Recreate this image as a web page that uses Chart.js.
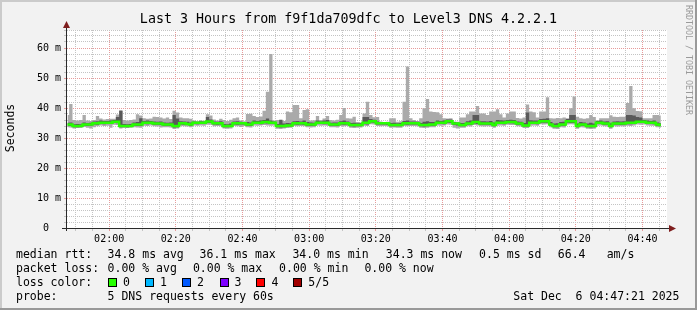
<!DOCTYPE html>
<html>
<head>
<meta charset="utf-8">
<title>Last 3 Hours from f9f1da709dfc to Level3 DNS 4.2.2.1</title>
<script src="https://cdn.jsdelivr.net/npm/chart.js@4.4.0/dist/chart.umd.min.js"></script>
<style>
  html, body { margin: 0; padding: 0; background: #f2f2f2; }
  #wrap { position: relative; width: 697px; height: 310px; overflow: hidden; background: #f2f2f2;
          font-family: 'DejaVu Sans Mono', monospace; color: #000; }
  #wrap canvas { position: absolute; left: 0; top: 0; }
  .t { position: absolute; white-space: pre; font-size: 11.5px; line-height: 14px; }
  .title { position: absolute; left: 0; top: 11px; width: 697px; text-align: center; font-size: 13.33px; line-height: 16px; white-space: pre; }
  .ylab { position: absolute; left: -40px; top: 121px; width: 100px; height: 14px; text-align: center;
          font-size: 11.5px; line-height: 14px; transform: rotate(-90deg); }
  .credit { position: absolute; left: 684px; top: 5px; writing-mode: vertical-rl; font-size: 8.3px; line-height: 9px;
            color: #9a9a9a; white-space: pre; }
  .box { position: absolute; top: 278px; width: 7px; height: 7px; border: 1px solid #000; }
  .shade { position: absolute; }
</style>
</head>
<body>
<div id="wrap">
  <canvas id="chart" width="697" height="310"></canvas>

  <div class="title">Last 3 Hours from f9f1da709dfc to Level3 DNS 4.2.2.1</div>
  <div class="ylab">Seconds</div>
  <div class="credit">RRDTOOL / TOBI OETIKER</div>

  <div class="t" style="left:16px;top:247px">median rtt:</div>
  <div class="t" style="left:107.6px;top:247px">34.8 ms avg</div>
  <div class="t" style="left:199.6px;top:247px">36.1 ms max</div>
  <div class="t" style="left:292.4px;top:247px">34.0 ms min</div>
  <div class="t" style="left:385.8px;top:247px">34.3 ms now</div>
  <div class="t" style="left:479.1px;top:247px">0.5 ms sd</div>
  <div class="t" style="left:557.8px;top:247px">66.4</div>
  <div class="t" style="left:606.7px;top:247px">am/s</div>

  <div class="t" style="left:16px;top:261px">packet loss:</div>
  <div class="t" style="left:107.6px;top:261px">0.00 % avg</div>
  <div class="t" style="left:192.9px;top:261px">0.00 % max</div>
  <div class="t" style="left:279.1px;top:261px">0.00 % min</div>
  <div class="t" style="left:364.4px;top:261px">0.00 % now</div>

  <div class="t" style="left:16px;top:275px">loss color:</div>
  <div id="lossLegend"></div>

  <div class="t" style="left:16px;top:289px">probe:</div>
  <div class="t" style="left:107.6px;top:289px">5 DNS requests every 60s</div>
  <div class="t" style="left:513.3px;top:289px">Sat Dec  6 04:47:21 2025</div>

  <div class="shade" style="left:0;top:0;width:697px;height:2px;background:#cbcbcb"></div>
  <div class="shade" style="left:0;top:0;width:2px;height:310px;background:#cbcbcb"></div>
  <div class="shade" style="left:0;top:308px;width:697px;height:2px;background:#999"></div>
  <div class="shade" style="left:695px;top:0;width:2px;height:310px;background:#999"></div>
</div>

<script>
// time axis: 3 hours ending at 04:47:21, one RRD step per minute
const startClock = '01:47:21';
const spanMinutes = 180;
const stepOffset = 0.15;          // steps sit on whole minutes, 39 s after the start
const xTickLabels = ['02:00', '02:20', '02:40', '03:00', '03:20', '03:40', '04:00', '04:20', '04:40'];
const yTickValues = [0, 10, 20, 30, 40, 50, 60];

const lossLabels = ['0', '1', '2', '3', '4', '5/5'];
const lossColors = ['#26ff00', '#00b8ff', '#0059ff', '#7e00ff', '#ff0000', '#a10000'];

// median rtt (ms), one value per minute
const medianRtt = [
  34.5, 34.5, 34.0, 34.0, 34.0, 34.5, 34.5, 34.5, 34.9, 34.9,
  35.1, 35.1, 35.1, 35.1, 35.4, 35.4, 34.0, 34.0, 34.0, 34.0,
  34.5, 34.5, 34.5, 35.1, 35.1, 35.1, 34.8, 34.8, 34.8, 34.5,
  34.5, 34.5, 34.0, 34.0, 34.9, 34.9, 34.7, 34.5, 35.1, 35.1,
  35.1, 35.1, 35.5, 35.5, 34.9, 34.9, 34.9, 34.0, 34.0, 34.0,
  34.9, 34.9, 34.9, 34.9, 34.5, 34.5, 35.1, 35.1, 35.1, 35.3,
  35.3, 35.1, 35.1, 34.0, 34.0, 34.0, 34.2, 34.2, 34.9, 34.9,
  34.9, 34.9, 34.5, 34.5, 34.5, 35.1, 35.1, 35.1, 35.1, 34.5,
  34.5, 34.5, 34.9, 34.9, 34.9, 34.3, 34.3, 34.3, 34.3, 35.1,
  35.1, 35.6, 35.6, 34.9, 34.9, 34.9, 34.9, 34.3, 34.3, 34.3,
  34.3, 34.9, 34.9, 34.9, 34.9, 34.9, 34.3, 34.3, 34.3, 34.5,
  34.5, 35.1, 35.1, 35.1, 35.6, 35.6, 34.8, 34.8, 34.3, 34.3,
  34.8, 34.8, 35.3, 35.3, 34.8, 34.8, 34.8, 34.8, 34.3, 35.1,
  35.1, 35.1, 35.3, 35.3, 35.3, 34.8, 34.8, 34.2, 34.2, 35.1,
  35.1, 35.1, 35.6, 35.6, 35.6, 34.5, 34.0, 34.0, 34.5, 34.5,
  35.6, 35.6, 35.6, 34.0, 34.5, 34.5, 34.0, 34.0, 34.0, 35.1,
  35.1, 34.8, 34.8, 34.0, 34.8, 34.8, 34.8, 34.8, 35.1, 35.1,
  35.1, 35.4, 35.4, 35.4, 35.1, 35.1, 35.1, 34.5, 34.3, null
];

// smoke: sorted pings, slowest (ping5) to fastest (ping1)
const ping5 = [
  37.7, 41.3, 36.0, 35.8, 36.0, 37.7, 35.8, 35.7, 36.0, 37.3,
  36.5, 36.2, 36.3, 36.4, 36.4, 37.8, 39.3, 36.0, 35.8, 36.0,
  36.2, 37.9, 37.5, 36.6, 36.4, 36.5, 37.1, 37.0, 36.8, 36.5,
  36.8, 36.3, 39.1, 38.5, 36.8, 36.6, 36.6, 36.4, 35.8, 35.6,
  35.9, 35.7, 37.9, 37.5, 36.2, 35.8, 36.4, 36.0, 35.7, 36.1,
  36.6, 36.8, 35.8, 35.6, 38.0, 38.1, 37.3, 37.0, 37.2, 39.1,
  45.4, 58.0, 35.8, 36.0, 36.2, 35.7, 38.8, 38.6, 41.0, 41.0,
  36.6, 39.3, 39.6, 35.8, 35.9, 37.3, 36.0, 36.5, 37.3, 36.0,
  35.8, 36.1, 37.7, 40.0, 36.6, 36.5, 37.1, 35.3, 35.2, 38.2,
  42.1, 37.7, 36.9, 37.0, 35.5, 35.2, 35.4, 36.6, 36.6, 35.4,
  35.6, 42.1, 53.8, 36.6, 36.0, 35.7, 36.6, 39.9, 43.0, 38.8,
  38.7, 38.6, 37.9, 36.6, 36.5, 36.6, 35.5, 35.4, 36.8, 36.8,
  37.9, 38.8, 38.8, 40.7, 38.2, 38.2, 37.7, 38.8, 38.8, 39.6,
  37.9, 36.8, 38.2, 38.8, 38.8, 36.7, 36.5, 36.8, 41.2, 38.8,
  38.6, 36.8, 38.8, 38.8, 43.6, 36.6, 36.5, 36.7, 36.6, 36.8,
  36.6, 39.9, 43.8, 37.1, 36.6, 36.4, 36.6, 37.7, 37.0, 35.9,
  36.6, 36.6, 36.6, 37.6, 37.1, 37.0, 37.1, 37.1, 41.7, 47.3,
  39.9, 39.0, 38.9, 36.6, 36.6, 36.6, 37.7, 37.7, 37.5, null
];
const ping4 = [
  35.1, 35.2, 34.6, 34.7, 34.6, 35.2, 35.0, 35.1, 35.5, 35.6,
  35.8, 35.7, 35.7, 35.8, 36.0, 37.0, 39.0, 34.7, 34.6, 34.7,
  35.2, 35.3, 36.6, 35.7, 35.8, 35.7, 35.5, 35.4, 35.5, 35.2,
  35.1, 35.2, 37.7, 36.5, 35.6, 35.5, 35.4, 35.2, 35.5, 35.4,
  35.6, 35.5, 37.0, 36.2, 35.5, 35.4, 35.6, 34.7, 34.6, 34.8,
  35.5, 35.6, 35.4, 35.3, 35.3, 35.2, 35.8, 35.7, 35.8, 36.0,
  36.5, 35.8, 35.5, 34.7, 36.0, 34.8, 35.0, 34.9, 35.6, 35.7,
  35.5, 35.8, 35.3, 35.2, 35.1, 35.8, 35.6, 35.8, 36.0, 35.1,
  35.2, 35.2, 35.6, 35.8, 35.5, 35.0, 35.1, 34.9, 34.9, 37.0,
  37.0, 36.3, 36.1, 35.5, 35.2, 35.1, 35.2, 35.0, 35.1, 34.9,
  35.0, 35.7, 35.8, 35.5, 35.5, 35.4, 35.0, 35.4, 35.6, 35.3,
  35.3, 35.8, 35.7, 35.8, 36.2, 36.2, 35.3, 35.2, 35.0, 35.0,
  35.6, 35.8, 37.7, 37.7, 35.6, 35.6, 35.5, 35.7, 35.2, 36.0,
  35.9, 35.8, 36.0, 36.1, 36.0, 35.5, 35.4, 35.0, 38.5, 35.9,
  35.8, 35.8, 36.3, 36.4, 36.6, 35.3, 34.8, 34.9, 35.3, 35.4,
  36.3, 37.7, 37.7, 34.8, 35.3, 35.2, 34.8, 35.1, 34.8, 35.7,
  35.8, 35.5, 35.6, 34.9, 35.5, 35.6, 35.5, 35.6, 37.7, 37.7,
  37.5, 37.0, 36.8, 36.0, 35.8, 35.7, 35.8, 35.2, 35.0, null
];
const ping2 = [
  34.1, 34.0, 33.6, 33.6, 33.7, 34.1, 34.0, 34.1, 34.5, 34.4,
  34.7, 34.6, 34.7, 34.7, 35.0, 34.9, 33.6, 33.7, 33.6, 33.7,
  34.1, 34.0, 34.0, 34.7, 34.6, 34.7, 34.4, 34.4, 34.3, 34.1,
  34.1, 34.0, 33.5, 33.6, 34.5, 34.4, 34.3, 34.1, 34.7, 34.6,
  34.7, 34.7, 35.0, 35.0, 34.5, 34.4, 34.5, 33.6, 33.6, 33.7,
  34.5, 34.4, 34.5, 34.5, 34.1, 34.0, 34.7, 34.7, 34.6, 34.9,
  34.8, 34.7, 34.7, 33.6, 33.5, 33.6, 33.8, 33.8, 34.5, 34.4,
  34.5, 34.4, 34.1, 34.0, 34.1, 34.7, 34.7, 34.6, 34.6, 34.1,
  34.1, 34.0, 34.5, 34.4, 34.5, 33.9, 33.8, 33.9, 33.9, 34.6,
  34.5, 35.2, 35.1, 34.5, 34.5, 34.5, 34.4, 33.9, 33.9, 33.9,
  33.9, 34.5, 34.4, 34.5, 34.5, 34.5, 33.9, 33.8, 33.9, 34.1,
  34.1, 34.7, 34.7, 34.6, 35.1, 35.0, 34.3, 34.2, 33.9, 33.9,
  34.4, 34.4, 34.8, 34.7, 34.4, 34.4, 34.4, 34.3, 33.9, 34.7,
  34.7, 34.6, 34.9, 34.9, 34.8, 34.4, 34.4, 33.8, 33.8, 34.7,
  34.7, 34.6, 35.1, 35.1, 35.1, 34.1, 33.6, 33.6, 34.1, 34.1,
  35.1, 35.0, 35.0, 33.6, 34.1, 34.1, 33.6, 33.5, 33.6, 34.7,
  34.7, 34.4, 34.4, 33.6, 34.4, 34.4, 34.3, 34.4, 34.6, 34.6,
  34.7, 35.0, 35.0, 35.0, 34.7, 34.7, 34.6, 34.1, 33.9, null
];
const ping1 = [
  33.6, 33.5, 33.2, 33.3, 33.3, 33.7, 33.4, 33.2, 33.6, 33.9,
  34.2, 34.0, 34.1, 33.4, 34.4, 34.3, 33.2, 33.3, 33.3, 33.4,
  33.6, 33.5, 33.4, 34.1, 34.0, 34.2, 33.9, 33.8, 33.5, 33.6,
  33.6, 33.5, 33.0, 33.2, 34.0, 33.9, 33.8, 33.6, 34.2, 34.1,
  34.2, 34.1, 34.4, 34.4, 33.9, 34.0, 33.9, 33.2, 33.1, 33.2,
  34.0, 33.9, 33.7, 34.0, 33.6, 33.5, 34.2, 34.1, 34.2, 34.3,
  34.2, 34.1, 34.2, 33.1, 33.0, 33.2, 33.3, 33.4, 34.0, 33.9,
  34.0, 33.9, 33.6, 33.5, 33.6, 34.2, 34.1, 34.2, 34.1, 33.6,
  33.6, 33.5, 34.0, 33.9, 34.0, 33.4, 33.3, 33.4, 33.5, 34.1,
  34.0, 34.6, 34.5, 34.0, 33.9, 34.0, 33.9, 33.4, 33.5, 33.4,
  33.4, 34.0, 33.9, 34.0, 34.0, 33.9, 33.4, 33.3, 33.4, 33.6,
  33.6, 34.2, 34.1, 34.2, 34.5, 34.4, 33.4, 33.2, 33.4, 33.4,
  33.9, 33.8, 34.3, 34.2, 33.9, 33.8, 33.9, 33.8, 33.4, 34.1,
  34.2, 34.1, 34.4, 34.3, 34.3, 33.9, 33.8, 33.3, 33.3, 34.1,
  34.2, 34.1, 34.6, 34.5, 34.6, 33.6, 33.1, 33.0, 33.6, 33.5,
  34.5, 34.6, 34.5, 33.1, 33.6, 33.5, 33.1, 33.0, 33.1, 34.1,
  34.2, 33.9, 33.8, 33.1, 33.9, 33.8, 33.9, 33.8, 34.1, 34.0,
  34.2, 34.5, 34.4, 34.5, 34.2, 34.1, 34.1, 33.6, 33.4, null
];

// loss color legend
const lossLegend = document.getElementById('lossLegend');
const lossBoxX = [108, 145, 182, 219.5, 256.4, 293.3];
lossLabels.forEach((lab, i) => {
    const box = document.createElement('div');
    box.className = 'box';
    box.style.left = lossBoxX[i] + 'px';
    box.style.background = lossColors[i];
    lossLegend.appendChild(box);
    const txt = document.createElement('div');
    txt.className = 't';
    txt.style.left = (lossBoxX[i] + 15) + 'px';
    txt.style.top = '275px';
    txt.textContent = lab;
    lossLegend.appendChild(txt);
});

// clock helpers
function toMin(clock) {
    const p = clock.split(':').map(Number);
    return p[0] * 60 + p[1] + (p[2] || 0) / 60;
}
const t0 = toMin(startClock);
const labelAt = xTickLabels.map(l => toMin(l) - t0);

// minor grid every 5 minutes of wall clock
const gridMinutes = [];
for (let m = Math.ceil(t0 / 5) * 5 - t0; m <= spanMinutes; m += 5) gridMinutes.push(m);

const pts = arr => arr.map((v, i) => ({ x: i + stepOffset, y: v }));

const MONO = "'DejaVu Sans Mono', monospace";
const GRID = '#c4c4c4';
const MGRID = '#e79a9a';
const none = 'rgba(0,0,0,0)';

// white canvas + rrdtool axis arrows
const rrdFrame = {
    id: 'rrdFrame',
    beforeDraw(chart) {
        const { ctx, chartArea: a } = chart;
        ctx.save();
        ctx.fillStyle = '#ffffff';
        ctx.fillRect(a.left, a.top, a.right - a.left, a.bottom - a.top);
        ctx.restore();
    },
    afterDraw(chart) {
        const { ctx, chartArea: a } = chart;
        ctx.save();
        ctx.strokeStyle = '#2a2a2a';
        ctx.lineWidth = 1;
        ctx.beginPath();
        ctx.moveTo(a.left - 0.5, a.bottom + 3);
        ctx.lineTo(a.left - 0.5, a.top - 6);
        ctx.moveTo(a.left - 5, a.bottom + 0.5);
        ctx.lineTo(a.right + 3, a.bottom + 0.5);
        ctx.stroke();
        ctx.fillStyle = '#7f1f1f';
        ctx.beginPath();
        ctx.moveTo(a.left - 0.5, a.top - 9);
        ctx.lineTo(a.left - 4, a.top - 2);
        ctx.lineTo(a.left + 3, a.top - 2);
        ctx.closePath();
        ctx.fill();
        ctx.beginPath();
        ctx.moveTo(a.right + 9, a.bottom + 0.5);
        ctx.lineTo(a.right + 2, a.bottom - 3);
        ctx.lineTo(a.right + 2, a.bottom + 4);
        ctx.closePath();
        ctx.fill();
        ctx.restore();
    }
};

new Chart(document.getElementById('chart').getContext('2d'), {
    type: 'line',
    data: {
        datasets: [
            { label: 'median rtt', data: pts(medianRtt), borderColor: lossColors[0], borderWidth: 2.5,
              pointRadius: 0, stepped: 'middle', fill: false },
            { label: 'ping4', data: pts(ping4), borderColor: none, borderWidth: 0, pointRadius: 0,
              stepped: 'middle', fill: 2, backgroundColor: '#595959' },
            { label: 'ping2', data: pts(ping2), borderColor: none, borderWidth: 0, pointRadius: 0,
              stepped: 'middle', fill: false },
            { label: 'ping5', data: pts(ping5), borderColor: none, borderWidth: 0, pointRadius: 0,
              stepped: 'middle', fill: 4, backgroundColor: '#aaaaaa' },
            { label: 'ping1', data: pts(ping1), borderColor: none, borderWidth: 0, pointRadius: 0,
              stepped: 'middle', fill: false }
        ]
    },
    options: {
        responsive: false,
        animation: false,
        events: [],
        layout: { padding: { left: 0, top: 30, right: 30, bottom: 62 } },
        plugins: { legend: { display: false }, tooltip: { enabled: false }, title: { display: false } },
        scales: {
            x: {
                type: 'linear',
                min: 0,
                max: spanMinutes,
                afterFit: s => { s.height = 20; },
                afterBuildTicks: s => { s.ticks = gridMinutes.map(v => ({ value: v })); },
                grid: {
                    color: c => (c.tick && labelAt.some(m => Math.abs(m - c.tick.value) < 0.01)) ? MGRID : GRID,
                    tickLength: 3
                },
                border: { display: false, dash: [1, 1] },
                ticks: {
                    autoSkip: false,
                    maxRotation: 0,
                    padding: 2,
                    color: '#000',
                    font: { family: MONO, size: 10 },
                    callback: v => {
                        const k = labelAt.findIndex(m => Math.abs(m - v) < 0.01);
                        return k >= 0 ? xTickLabels[k] : '';
                    }
                }
            },
            y: {
                min: 0,
                max: 66,
                afterFit: s => { s.width = 67; },
                grid: {
                    color: c => (c.tick && c.tick.value > 0 && yTickValues.includes(c.tick.value)) ? MGRID : GRID,
                    tickLength: 3
                },
                border: { display: false, dash: [1, 1] },
                ticks: {
                    stepSize: 2,
                    autoSkip: false,
                    padding: 3,
                    color: '#000',
                    font: { family: MONO, size: 10 },
                    callback: v => yTickValues.includes(v) ? (v === 0 ? '0  ' : v + ' m') : ''
                }
            }
        }
    },
    plugins: [rrdFrame]
});
</script>
</body>
</html>
